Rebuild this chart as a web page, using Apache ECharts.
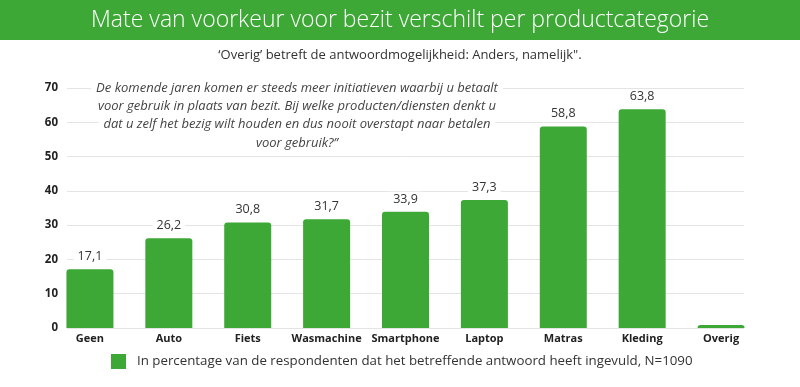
<!DOCTYPE html>
<html><head><meta charset="utf-8">
<script src="https://cdn.jsdelivr.net/npm/echarts@6/dist/echarts.min.js"></script>
<style>html,body{margin:0;padding:0;background:#fff}#c{width:800px;height:387px}</style>
</head><body><div id="c"></div>
<script>
const titleText = 'Mate van voorkeur voor bezit verschilt per productcategorie';
const subtitleText = '\u2018Overig\u2019 betreft de antwoordmogelijkheid: Anders, namelijk".';
const noteLines = [
  'De komende jaren komen er steeds meer initiatieven waarbij u betaalt',
  'voor gebruik in plaats van bezit. Bij welke producten/diensten denkt u',
  'dat u zelf het bezig wilt houden en dus nooit overstapt naar betalen',
  'voor gebruik?\u201d'
];
const categories = ['Geen','Auto','Fiets','Wasmachine','Smartphone','Laptop','Matras','Kleding','Overig'];
const values = [17.1, 26.2, 30.8, 31.7, 33.9, 37.3, 58.8, 63.8, 0.9];
const hiddenLabels = ['Overig'];
const seriesName = 'In percentage van de respondenten dat het betreffende antwoord heeft ingevuld, N=1090';
const yMin = 0, yMax = 70, yStep = 10;

const GREEN = '#3da836';
const FONT = '"Open Sans", "Noto Sans", sans-serif';
const chart = echarts.init(document.getElementById('c'), null, {renderer:'canvas'});

const graphics = [
  {type:'rect', left:0, top:0, shape:{width:800, height:40}, style:{fill:GREEN}, z:0},
  {type:'text', x:400, y:20, style:{text:titleText, fill:'#fff', font:'300 23px ' + FONT, align:'center', verticalAlign:'middle'}, z:1},
  {type:'text', x:400, y:55, style:{text:subtitleText, fill:'#333', font:'13px ' + FONT, align:'center', verticalAlign:'middle'}, z:1}
];
noteLines.forEach((t,i)=>{
  graphics.push({type:'text', x:297, y:88 + i*18.3, z:10,
    style:{text:t, fill:'#444', font:'italic 13px ' + FONT, align:'center', verticalAlign:'middle',
      backgroundColor:'#fff', padding:[0,5]}});
});

chart.setOption({
  animation:false,
  textStyle:{fontFamily:FONT},
  graphic:graphics,
  legend:{left:106, top:349, itemWidth:15, itemHeight:15, icon:'rect',
    textStyle:{fontSize:13.3, color:'#333', fontFamily:FONT, padding:[0,0,0,6]},
    data:[seriesName]},
  grid:[
    {left:67, right:56, top:88, bottom:59},
    {left:50.5, right:39.5, top:88, bottom:59}
  ],
  xAxis:[
    {gridIndex:0, type:'category', data:categories, show:false},
    {gridIndex:1, type:'category', data:categories,
      axisLine:{show:false}, axisTick:{show:false},
      axisLabel:{fontWeight:'bold', fontSize:11, color:'#222', margin:5, fontFamily:FONT, interval:0}}
  ],
  yAxis:[
    {gridIndex:0, type:'value', min:yMin, max:yMax, interval:yStep,
      axisLine:{show:false}, axisTick:{show:false},
      axisLabel:{fontWeight:'bold', fontSize:11.5, color:'#222', margin:9, fontFamily:FONT},
      splitLine:{lineStyle:{color:'#e4e4e4', width:1}}},
    {gridIndex:1, type:'value', min:yMin, max:yMax, interval:yStep, show:false, splitLine:{show:false}}
  ],
  series:[{
    name:seriesName, type:'bar', xAxisIndex:1, yAxisIndex:1,
    barWidth:47,
    itemStyle:{color:GREEN, borderRadius:[3,3,0,0]},
    label:{show:true, position:'top', distance:5, fontSize:12.5, color:'#333', fontFamily:FONT,
      backgroundColor:'#fff', padding:[1,4],
      formatter:p=>String(p.value).replace('.', ',')},
    data:values.map((v,i)=>hiddenLabels.includes(categories[i]) ? {value:v, label:{show:false}} : v),
    z:5
  }]
});
</script></body></html>
